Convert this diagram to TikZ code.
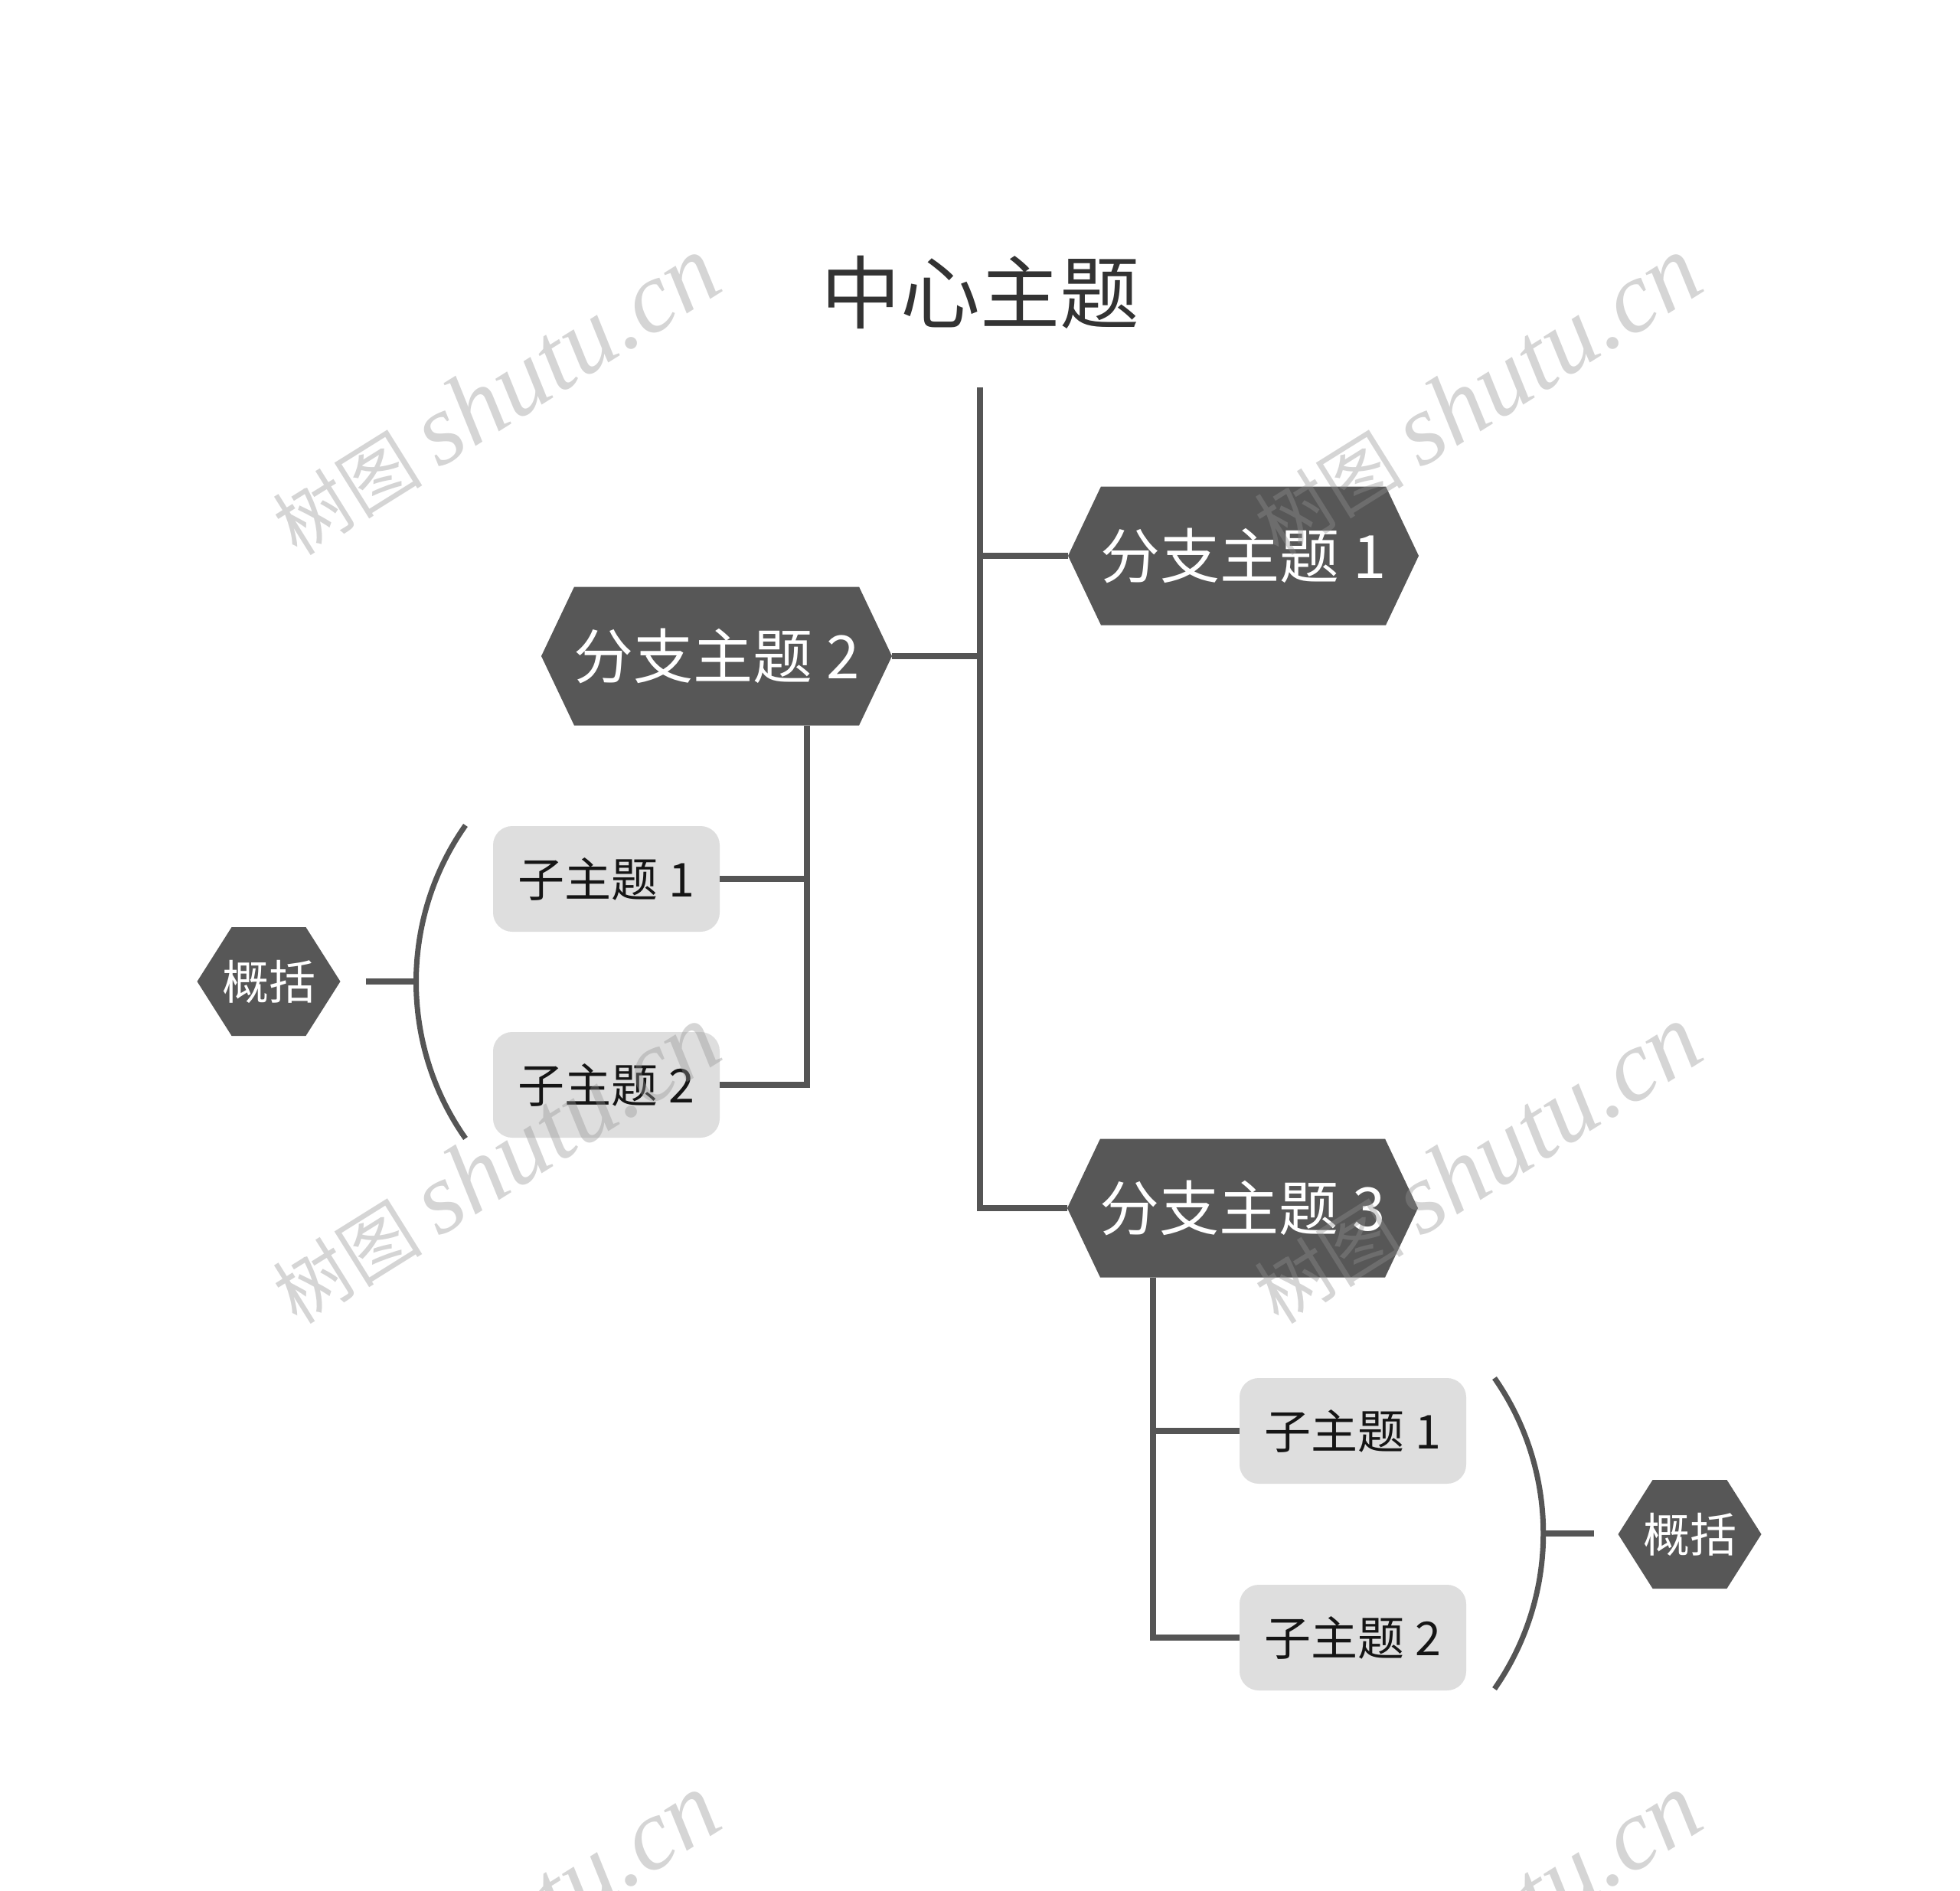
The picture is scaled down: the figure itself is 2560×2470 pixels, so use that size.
\documentclass[tikz,border=0pt]{standalone}
\usepackage{fontspec}
\usetikzlibrary{shapes.symbols,calc}
\newfontfamily\cjk{Noto Sans CJK SC}
\newfontfamily\wmserif{Liberation Serif}
\definecolor{hexfill}{HTML}{575757}
\definecolor{linec}{HTML}{555555}
\definecolor{subfill}{HTML}{DEDEDE}
\definecolor{titlec}{HTML}{333333}
\definecolor{subtext}{HTML}{151515}
\definecolor{wmc}{HTML}{929292}
\newcommand{\ctr}[1]{\makebox[0pt][c]{#1}}
\newcommand{\wmtext}{\cjk\fontsize{98}{110}\selectfont 树图\hspace{22pt}\wmserif\itshape\fontsize{132}{140}\selectfont shutu.cn}
\begin{document}
\begin{tikzpicture}[x=1pt,y=-1pt,
  hexbranch/.style={shape=signal, signal to=east and west, signal pointer angle=129.2,
    fill=hexfill, draw=none, minimum width=458pt, minimum height=181pt,
    inner sep=0pt, outer sep=0pt, text=white, font=\cjk\fontsize{78}{90}\selectfont},
  hexsum/.style={shape=signal, signal to=east and west, signal pointer angle=115.2,
    fill=hexfill, draw=none, minimum width=187pt, minimum height=142pt,
    inner sep=0pt, outer sep=0pt, text=white, font=\cjk\fontsize{61}{70}\selectfont},
  subbox/.style={rectangle, rounded corners=25pt, fill=subfill, draw=none,
    minimum width=296pt, minimum height=138pt, inner sep=0pt, outer sep=0pt,
    text=subtext, font=\cjk\fontsize{61}{70}\selectfont},
  conn/.style={draw=linec, line width=8pt},
  bracket/.style={draw=linec, line width=7pt},
  wm/.style={text=wmc, opacity=0.38, rotate=32, inner sep=0pt}
]
\useasboundingbox (0,0) rectangle (2560,2470);
\fill[white] (0,0) rectangle (2560,2470);

% nodes
\node[font=\cjk\fontsize{104}{120}\selectfont, text=titlec, minimum height=248pt,
      inner sep=0pt, outer sep=0pt] (root) at (1280,382) {中心主题};
\node[hexbranch] (b1) at (1624,726) {\ctr{分支主题 1}};
\node[hexbranch] (b2) at (936,857) {\ctr{分支主题 2}};
\node[hexbranch] (b3) at (1623,1578) {\ctr{分支主题 3}};
\node[subbox] (s21) at (792,1148) {子主题 1};
\node[subbox] (s22) at (792,1417) {子主题 2};
\node[subbox] (s31) at (1767,1869) {子主题 1};
\node[subbox] (s32) at (1767,2139) {子主题 2};
\node[hexsum] (g2) at (351,1282) {\ctr{概括}};
\node[hexsum] (g3) at (2207,2004) {\ctr{概括}};

% connectors
\draw[conn] (root.south) |- (b3.west);
\draw[conn] (b1.west) -- (b1.west -| root.south);
\draw[conn] (b2.east) -- (b2.east -| root.south);
\draw[conn] ([xshift=118pt]b2.south) |- (s21.east);
\draw[conn] ([xshift=118pt]b2.south) |- (s22.east);
\draw[conn] ([xshift=-117pt]b3.south) |- (s31.west);
\draw[conn] ([xshift=-117pt]b3.south) |- (s32.west);

% summary brackets
\coordinate (aL1) at (608,1078);
\coordinate (aL2) at (608,1487);
\coordinate (aLm) at (543,1282);
\coordinate (aLe) at (478,1282);
\draw[bracket] (aL1) .. controls (522,1200) and (522,1365) .. (aL2);
\draw[conn] (aLm) -- (aLe);
\coordinate (aR1) at (1952,1800);
\coordinate (aR2) at (1952,2206);
\coordinate (aRm) at (2016,2003);
\coordinate (aRe) at (2082,2003);
\draw[bracket] (aR1) .. controls (2037,1922) and (2037,2084) .. (aR2);
\draw[conn] (aRm) -- (aRe);

% watermarks
\begin{scope}
\clip (0,0) rectangle (2560,2470);
\node[wm] (wm1) at (647,517) {\wmtext};
\node[wm] (wm2) at (1929,517) {\wmtext};
\node[wm] (wm3) at (647,1521) {\wmtext};
\node[wm] (wm4) at (1929,1521) {\wmtext};
\node[wm] (wm5) at (647,2525) {\wmtext};
\node[wm] (wm6) at (1929,2525) {\wmtext};
\end{scope}
\end{tikzpicture}
\end{document}
